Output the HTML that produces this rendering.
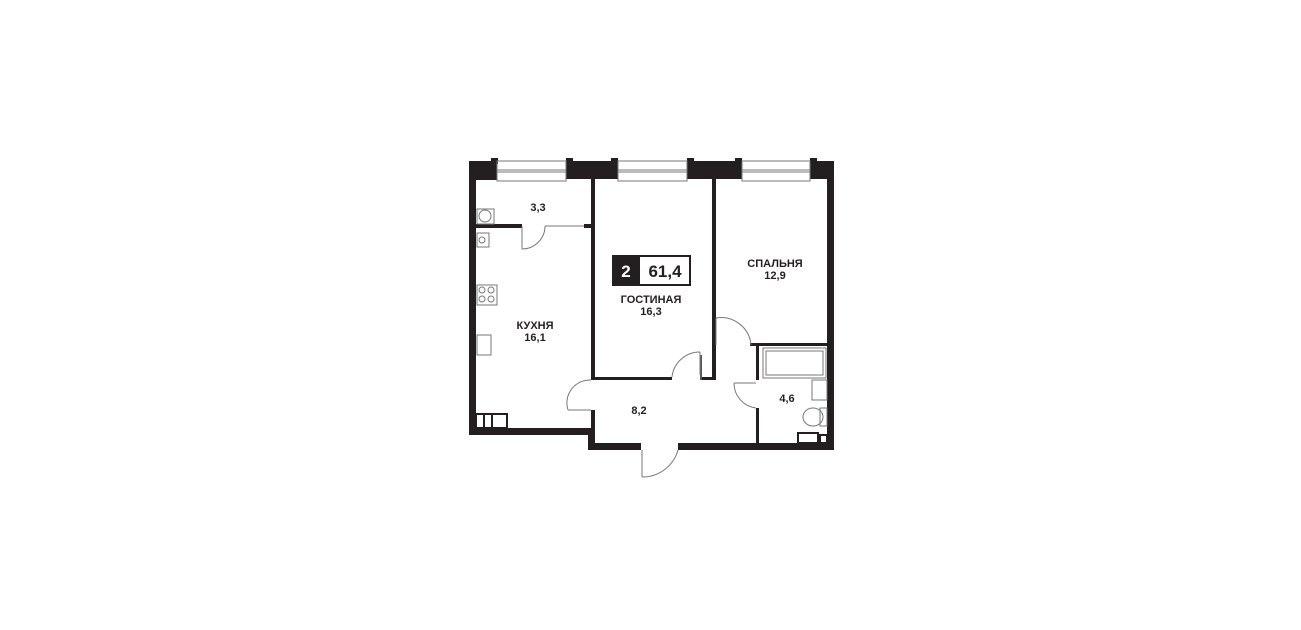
<!DOCTYPE html>
<html><head><meta charset="utf-8"><style>
html,body{margin:0;padding:0;background:#fff;}
svg{display:block}
text{font-family:"Liberation Sans",sans-serif;font-weight:bold;fill:#231f20;text-anchor:middle}
</style></head><body>
<svg width="1301" height="630" viewBox="0 0 1301 630" xmlns="http://www.w3.org/2000/svg">
<g fill="#231f20">
<!-- top wall blocks -->
<rect x="469" y="161" width="28" height="19"/>
<rect x="491" y="158" width="7" height="6"/>
<rect x="566" y="158" width="7" height="6"/>
<rect x="566" y="161" width="52" height="18"/>
<rect x="611" y="158" width="7" height="6"/>
<rect x="687" y="158" width="7" height="6"/>
<rect x="687" y="161" width="55" height="18"/>
<rect x="735" y="158" width="7" height="6"/>
<rect x="810" y="158" width="7" height="6"/>
<rect x="810" y="161" width="24" height="18"/>
<!-- outer left -->
<rect x="469" y="161" width="7" height="274"/>
<!-- right outer -->
<rect x="827" y="161" width="7" height="288"/>
<!-- kitchen bottom -->
<rect x="469" y="428" width="126" height="7"/>
<rect x="588" y="428" width="7" height="22"/>
<!-- hall bottom -->
<rect x="588" y="443" width="53" height="7"/>
<rect x="678" y="443" width="156" height="7"/>
<!-- partition 3.3 -->
<rect x="476" y="224" width="46" height="4"/>
<rect x="584" y="224" width="8" height="4"/>
<!-- wall kitchen/living -->
<rect x="591" y="179" width="4" height="201"/>
<rect x="591" y="410" width="4" height="36"/>
<!-- living bottom -->
<rect x="595" y="377" width="77" height="3"/>
<rect x="701" y="377" width="14" height="3"/>
<rect x="700" y="355" width="2" height="25" fill="#555"/>
<!-- living/bedroom -->
<rect x="712" y="179" width="4" height="201"/>
<!-- bath -->
<rect x="750" y="343" width="78" height="3"/>
<rect x="756" y="343" width="3" height="37"/>
<rect x="756" y="408" width="3" height="37"/>
</g>
<g fill="none" stroke="#777" stroke-width="1">
<!-- windows -->
<rect x="497" y="161" width="69" height="20"/>
<rect x="618" y="161" width="69" height="20"/>
<rect x="742" y="161" width="68" height="20"/>
<line x1="497" y1="170" x2="566" y2="170"/><line x1="497" y1="172" x2="566" y2="172"/>
<line x1="618" y1="170" x2="687" y2="170"/><line x1="618" y1="172" x2="687" y2="172"/>
<line x1="742" y1="170" x2="810" y2="170"/><line x1="742" y1="172" x2="810" y2="172"/>
<!-- doors -->
<line x1="522" y1="226" x2="522" y2="249"/><path d="M522 249 A23 23 0 0 0 545 226"/>
<line x1="545" y1="226" x2="584" y2="226"/>
<line x1="568" y1="410" x2="591" y2="410"/><path d="M568 410 A23 23 0 0 1 591 380"/>
<line x1="700" y1="352" x2="700" y2="375"/><path d="M672 377 A28 28 0 0 1 700 352"/>
<line x1="716" y1="318" x2="716" y2="345"/><path d="M716 318 A30 30 0 0 1 751 345"/>
<line x1="734" y1="383" x2="756" y2="383"/><path d="M734 383 A25 25 0 0 0 756 408"/>
<line x1="642" y1="450" x2="642" y2="477"/><path d="M642 477 A37 37 0 0 0 678 450"/>
<!-- fixtures -->
<rect x="477" y="209" width="17" height="15"/><circle cx="485" cy="216" r="6"/>
<rect x="477" y="233" width="12" height="14"/><circle cx="482" cy="240" r="3"/>
<rect x="477" y="285" width="20" height="20"/>
<circle cx="482" cy="290" r="3"/><circle cx="491" cy="290" r="3"/><circle cx="482" cy="299" r="3"/><circle cx="491" cy="299" r="3"/>
<rect x="477" y="335" width="14" height="20"/>
<rect x="763" y="348" width="63" height="30"/><rect x="766" y="351" width="57" height="24"/>
<rect x="812" y="380" width="15" height="20"/>
<ellipse cx="813" cy="417" rx="10" ry="9"/><rect x="820" y="408" width="7" height="18"/>
</g>
<g fill="none" stroke="#231f20" stroke-width="2">
<rect x="476" y="414" width="31" height="14"/>
<line x1="484" y1="414" x2="484" y2="428"/><line x1="492" y1="414" x2="492" y2="428"/>
<rect x="798" y="433" width="20" height="10"/><rect x="820" y="435" width="7" height="8"/>
</g>
<rect x="613" y="256" width="77" height="29" fill="#fff" stroke="#231f20" stroke-width="2"/>
<rect x="613" y="256" width="27" height="29" fill="#231f20"/>
<text x="626" y="277" font-size="17" style="fill:#fff">2</text>
<text x="665" y="277" font-size="17">61,4</text>
<text x="538" y="211" font-size="11">3,3</text>
<text x="775" y="267" font-size="11">СПАЛЬНЯ</text>
<text x="775" y="279" font-size="11">12,9</text>
<text x="651" y="303" font-size="11">ГОСТИНАЯ</text>
<text x="651" y="315" font-size="11">16,3</text>
<text x="535" y="329" font-size="11">КУХНЯ</text>
<text x="535" y="341" font-size="11">16,1</text>
<text x="639" y="414" font-size="11">8,2</text>
<text x="787" y="402" font-size="11">4,6</text>
</svg>
</body></html>
